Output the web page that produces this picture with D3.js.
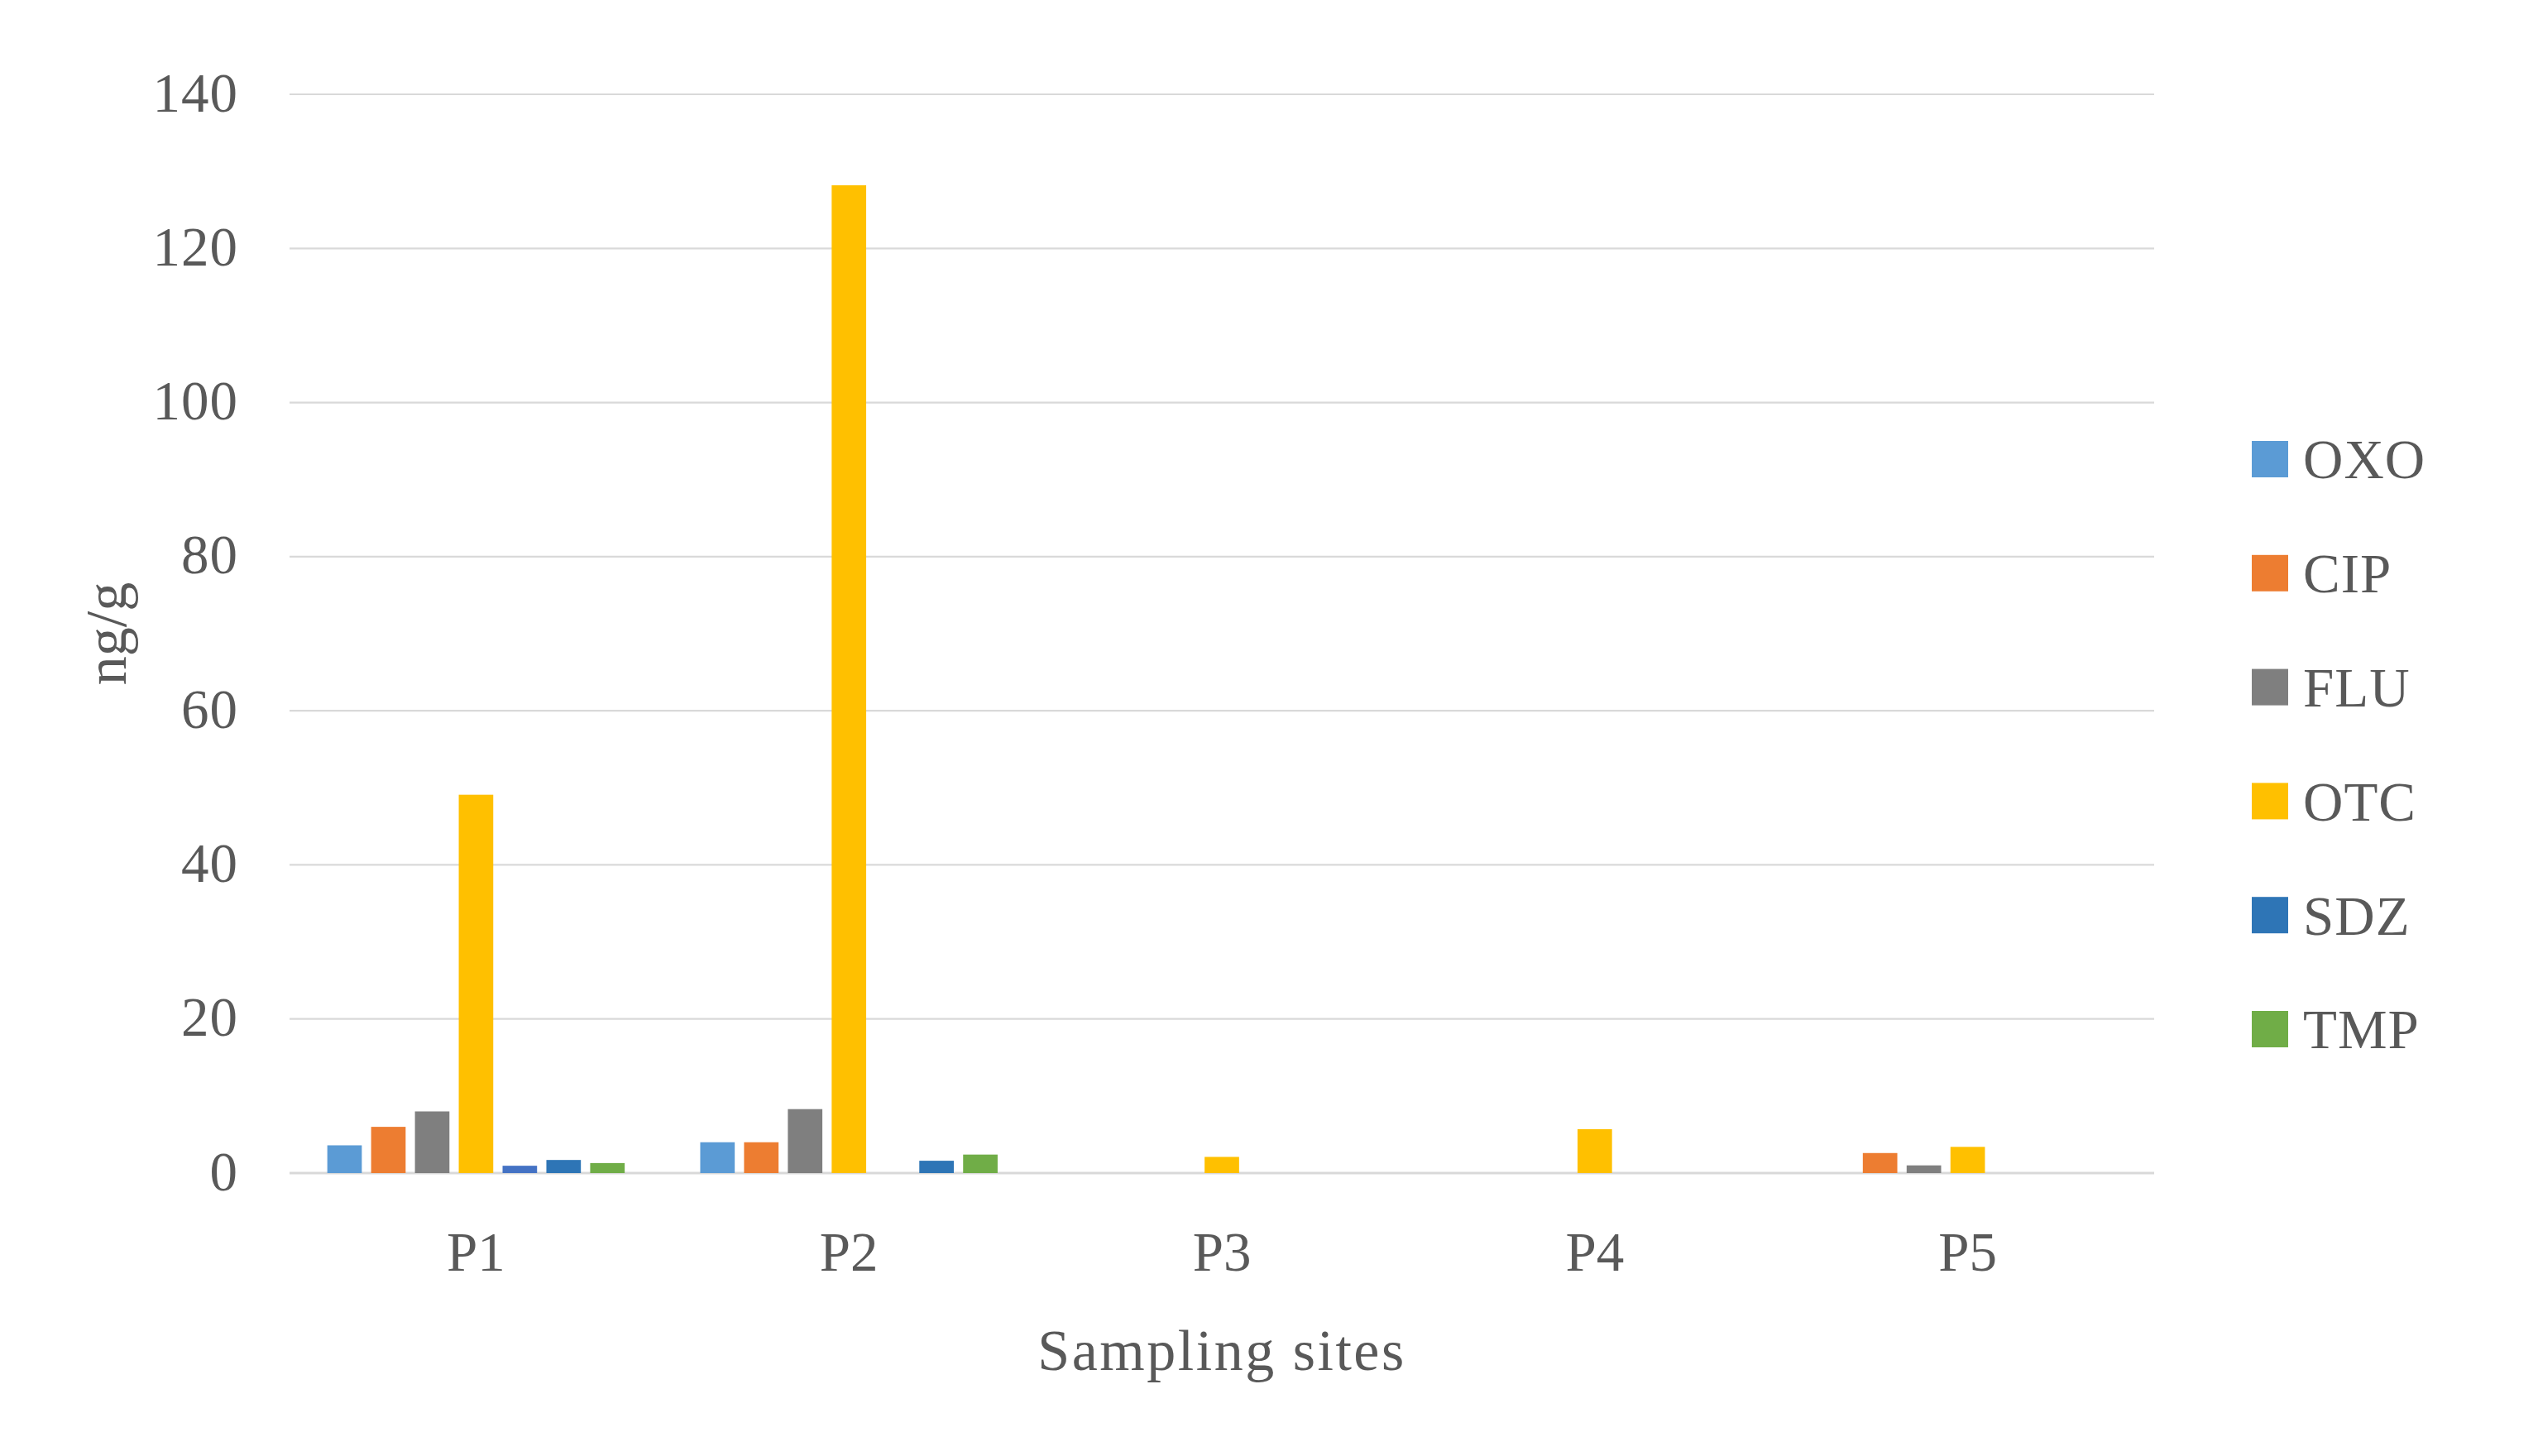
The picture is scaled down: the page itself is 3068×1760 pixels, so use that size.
<!DOCTYPE html>
<html>
<head>
<meta charset="utf-8">
<script src="https://cdn.jsdelivr.net/npm/d3@7"></script>
<style>
  html, body { margin: 0; padding: 0; background: #ffffff; }
  svg { display: block; }
  text { font-family: "Liberation Serif", "DejaVu Serif", serif; fill: #595959; }
</style>
</head>
<body>
<script>
// ---- data ----
const categories = ["P1", "P2", "P3", "P4", "P5"];
const seriesNames = ["OXO", "CIP", "FLU", "OTC", "", "SDZ", "TMP"];
const seriesColors = ["#5B9BD5", "#ED7D31", "#7F7F7F", "#FFC000", "#4472C4", "#2E75B6", "#70AD47"];
const OXO = [3.6, 4.0, 0, 0, 0];
const CIP = [6.0, 4.0, 0, 0, 2.6];
const FLU = [8.0, 8.3, 0, 0, 1.0];
const OTC = [49.1, 128.2, 2.1, 5.7, 3.4];
const UNNAMED = [0.95, 0, 0, 0, 0];
const SDZ = [1.7, 1.6, 0, 0, 0];
const TMP = [1.3, 2.4, 0, 0, 0];
const seriesValues = [OXO, CIP, FLU, OTC, UNNAMED, SDZ, TMP];
const yTicks = [0, 20, 40, 60, 80, 100, 120, 140];
const xTitle = "Sampling sites";
const yTitle = "ng/g";

// ---- layout ----
const W = 3068, H = 1760;
const plot = { left: 350, right: 2604, top: 114, bottom: 1418 };

const svg = d3.select("body").append("svg").attr("width", W).attr("height", H);

const x0 = d3.scaleBand().domain(categories).range([plot.left, plot.right]).padding(0);
const y = d3.scaleLinear().domain([0, 140]).range([plot.bottom, plot.top]);

// Excel-style gap width 219%, overlap -27%
const nS = seriesNames.length;
const gapWidth = 2.19, overlap = -0.27;
const barW = x0.bandwidth() / (nS + (nS - 1) * (-overlap) + gapWidth);
const step = barW * (1 - overlap);
const groupW = barW * nS + (nS - 1) * barW * (-overlap);
const x1 = d3.scaleBand().domain(d3.range(nS))
  .range([(x0.bandwidth() - groupW) / 2, (x0.bandwidth() - groupW) / 2 + groupW])
  .paddingInner((step - barW) / step).paddingOuter(0);

// gridlines
const grid = svg.append("g");
grid.selectAll("line").data(yTicks).join("line")
  .attr("x1", plot.left).attr("x2", plot.right)
  .attr("y1", d => y(d)).attr("y2", d => y(d))
  .attr("stroke", "#D9D9D9").attr("stroke-width", d => d === 0 ? 3 : 2.2);

// y axis labels
const yAxis = d3.axisLeft(y).tickValues(yTicks).tickSize(0).tickPadding(0);
const yg = svg.append("g").attr("transform", `translate(${plot.left - 62},0)`).call(yAxis);
yg.select(".domain").remove();
yg.selectAll("text").attr("font-size", 67).attr("fill", "#595959")
  .attr("font-family", "Liberation Serif").attr("dy", "0.3em").attr("letter-spacing", 1);

// x axis labels
const xAxis = d3.axisBottom(x0).tickSize(0).tickPadding(0);
const xg = svg.append("g").attr("transform", `translate(0,${plot.bottom + 70})`).call(xAxis);
xg.select(".domain").remove();
xg.selectAll("text").attr("font-size", 67).attr("fill", "#595959")
  .attr("font-family", "Liberation Serif");

// bars
const groups = svg.append("g").selectAll("g").data(categories).join("g")
  .attr("transform", d => `translate(${x0(d)},0)`);
groups.selectAll("rect")
  .data((c, ci) => seriesValues.map((vals, si) => ({ si, v: vals[ci] })).filter(d => d.v > 0))
  .join("rect")
  .attr("x", d => x1(d.si))
  .attr("width", x1.bandwidth())
  .attr("y", d => y(d.v))
  .attr("height", d => y(0) - y(d.v))
  .attr("fill", d => seriesColors[d.si]);

// axis titles
svg.append("text").attr("x", (plot.left + plot.right) / 2).attr("y", 1656)
  .attr("text-anchor", "middle").attr("font-size", 70).attr("letter-spacing", 2.5).text(xTitle);
svg.append("text").attr("transform", `translate(152,${(plot.top + plot.bottom) / 2}) rotate(-90)`)
  .attr("text-anchor", "middle").attr("font-size", 70).text(yTitle);

// legend
const legendItems = seriesNames.map((n, i) => ({ n, c: seriesColors[i] })).filter(d => d.n !== "");
const legendY = d3.scalePoint().domain(legendItems.map(d => d.n)).range([555, 1244]);
const lg = svg.append("g").selectAll("g").data(legendItems).join("g")
  .attr("transform", d => `translate(2722,${legendY(d.n)})`);
lg.append("rect").attr("x", 0).attr("y", -22).attr("width", 44).attr("height", 44).attr("fill", d => d.c);
lg.append("text").attr("x", 62).attr("y", 0).attr("dy", "0.35em").attr("font-size", 67)
  .attr("letter-spacing", 1).text(d => d.n);
</script>
</body>
</html>
